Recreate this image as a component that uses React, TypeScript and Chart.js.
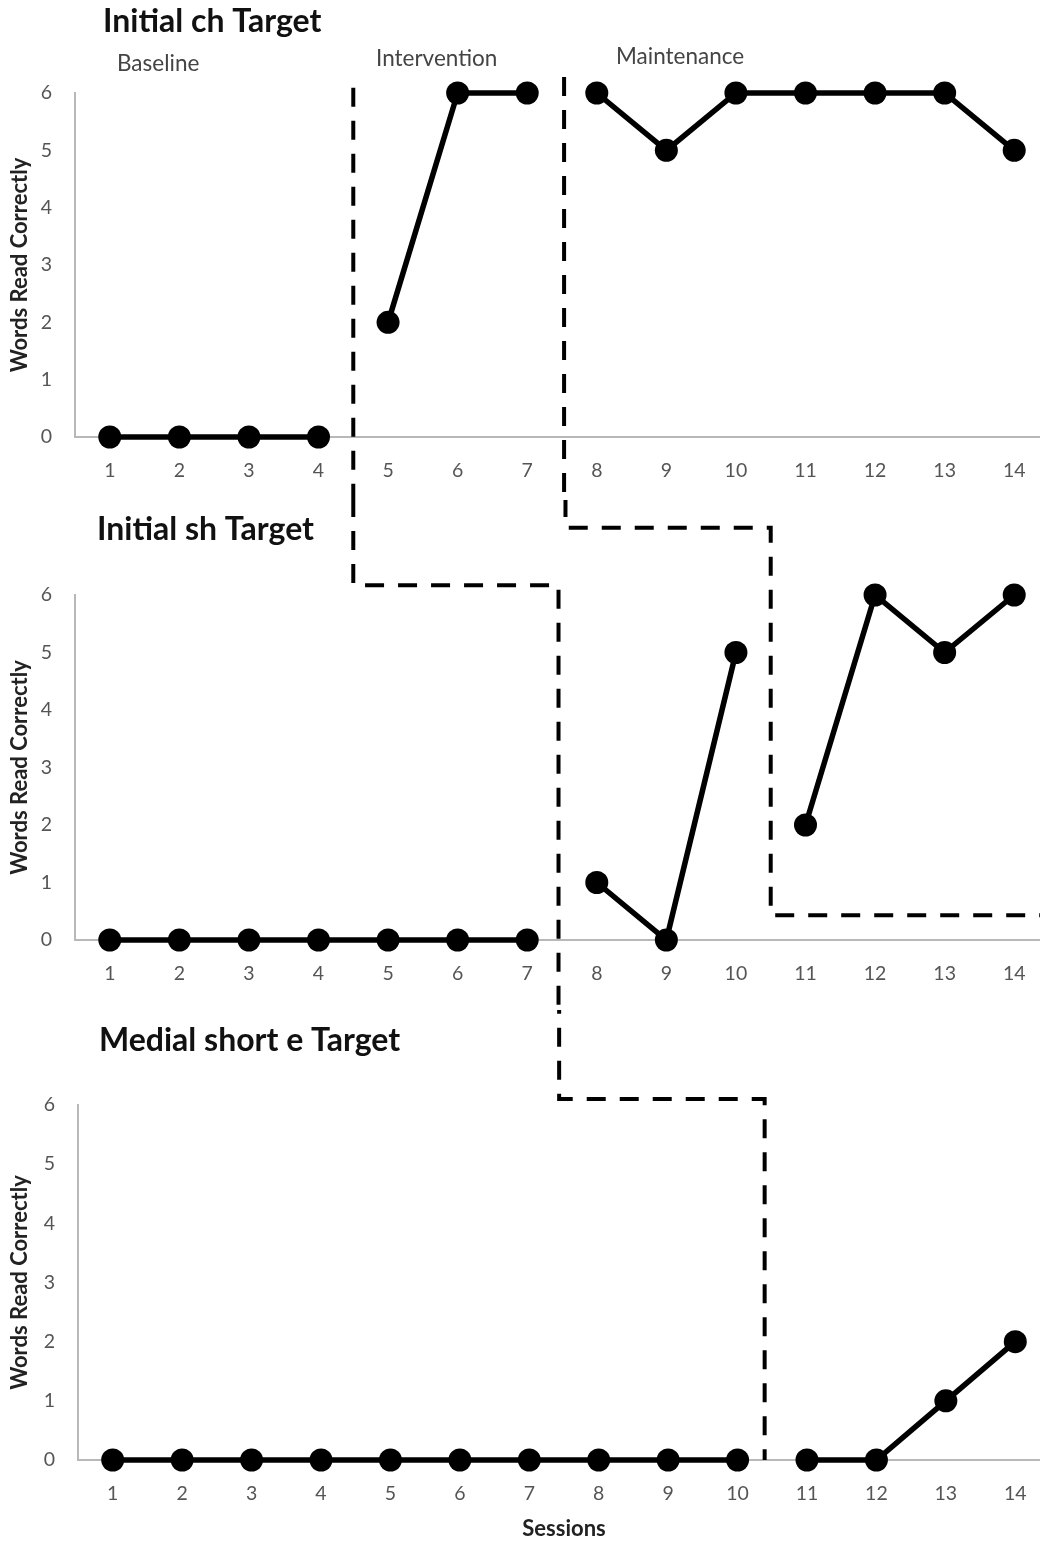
import React, { useEffect, useRef } from 'react';
import { Chart, registerables } from 'chart.js';

Chart.register(...registerables);

// ---------------- data ----------------
const sessions = [1, 2, 3, 4, 5, 6, 7, 8, 9, 10, 11, 12, 13, 14];
const yTicks = [0, 1, 2, 3, 4, 5, 6];

const chValues = [0, 0, 0, 0, 2, 6, 6, 6, 5, 6, 6, 6, 6, 5];
const shValues = [0, 0, 0, 0, 0, 0, 0, 1, 0, 5, 2, 6, 5, 6];
const eValues = [0, 0, 0, 0, 0, 0, 0, 0, 0, 0, 0, 0, 1, 2];

// first session of each new phase
const chPhaseStarts = [5, 8];
const shPhaseStarts = [8, 11];
const ePhaseStarts = [11];

const phaseNames = ['Baseline', 'Intervention', 'Maintenance'];
const panelTitles = ['Initial ch Target', 'Initial sh Target', 'Medial short e Target'];
const yAxisTitle = 'Words Read Correctly';
const xAxisTitle = 'Sessions';

// dashed phase-change lines, in (session, words) units of each panel
const chChangeLines = [
  [[4.5, 6.09], [4.5, -6]],
  [[7.53, 6.28], [7.53, -6]],
];
const shChangeLines = [
  [[4.5, 14], [4.5, 6.17], [7.45, 6.17], [7.45, -6]],
  [[7.55, 14], [7.55, 7.17], [10.5, 7.17], [10.5, 0.43], [15.5, 0.43]],
];
const eChangeLines = [
  [[7.43, 14], [7.43, 6.1], [10.39, 6.1], [10.39, 0]],
];

// ---------------- helpers ----------------
const FONT = 'Lato, "Open Sans", "DejaVu Sans", sans-serif';

function buildDatasets(values: number[], starts: number[]) {
  const bounds = [1, ...starts, 99];
  const sets: any[] = [];
  for (let i = 0; i < bounds.length - 1; i++) {
    const pts = sessions
      .filter((s) => s >= bounds[i] && s < bounds[i + 1])
      .map((s) => ({ x: s, y: values[s - 1] }));
    sets.push({
      data: pts,
      borderColor: '#000',
      backgroundColor: '#000',
      borderWidth: 5.5,
      pointRadius: 11.5,
      pointBackgroundColor: '#000',
      pointBorderColor: '#000',
      pointBorderWidth: 0,
      tension: 0,
      clip: false,
    });
  }
  return sets;
}

type Panel = {
  values: number[];
  starts: number[];
  lines: number[][][];
  title: string;
  titleX: number;
  titleY: number;
  top: number;
  height: number;
  areaTop: number;
  areaBottom: number;
  areaLeft: number;
  areaRight: number;
  phaseLabels: boolean;
  xTitle: boolean;
};

const panels: Panel[] = [
  {
    values: chValues, starts: chPhaseStarts, lines: chChangeLines, title: panelTitles[0],
    titleX: 103, titleY: 22, top: 0, height: 500, areaTop: 93, areaBottom: 437,
    areaLeft: 75, areaRight: 1049, phaseLabels: true, xTitle: false,
  },
  {
    values: shValues, starts: shPhaseStarts, lines: shChangeLines, title: panelTitles[1],
    titleX: 97, titleY: 30, top: 500, height: 510, areaTop: 95, areaBottom: 440,
    areaLeft: 75, areaRight: 1049, phaseLabels: false, xTitle: false,
  },
  {
    values: eValues, starts: ePhaseStarts, lines: eChangeLines, title: panelTitles[2],
    titleX: 99, titleY: 31, top: 1010, height: 532, areaTop: 95, areaBottom: 450,
    areaLeft: 78, areaRight: 1050, phaseLabels: false, xTitle: true,
  },
];

const CANVAS_W = 1050;

function PanelChart({ p }: { p: Panel }) {
  const ref = useRef<HTMLCanvasElement | null>(null);
  useEffect(() => {
    if (!ref.current) return;
    const decor = {
      id: 'decor',
      afterDraw(chart: any) {
        const ctx = chart.ctx;
        const xs = chart.scales.x;
        const ys = chart.scales.y;
        ctx.save();
        // dashed phase-change lines
        ctx.strokeStyle = '#000';
        ctx.lineWidth = 4;
        ctx.setLineDash([19, 14]);
        ctx.lineCap = 'butt';
        ctx.lineJoin = 'miter';
        p.lines.forEach((line) => {
          ctx.beginPath();
          line.forEach(([vx, vy], i) => {
            const px = xs.getPixelForValue(vx);
            const py = ys.getPixelForValue(vy);
            if (i === 0) ctx.moveTo(px, py);
            else ctx.lineTo(px, py);
          });
          ctx.stroke();
        });
        ctx.setLineDash([]);
        // panel title
        ctx.fillStyle = '#111';
        ctx.font = `bold 32px ${FONT}`;
        ctx.textAlign = 'left';
        ctx.textBaseline = 'middle';
        ctx.fillText(p.title, p.titleX, p.titleY);
        if (p.phaseLabels) {
          ctx.fillStyle = '#444';
          ctx.font = `22.5px ${FONT}`;
          ctx.fillText(phaseNames[0], 117, 64);
          ctx.fillText(phaseNames[1], 376, 59);
          ctx.fillText(phaseNames[2], 616, 57);
        }
        ctx.restore();
      },
    };
    const chart = new Chart(ref.current, {
      type: 'line',
      data: { datasets: buildDatasets(p.values, p.starts) },
      plugins: [decor],
      options: {
        responsive: false,
        animation: false,
        devicePixelRatio: 1,
        layout: {
          autoPadding: false,
          padding: { top: p.areaTop, left: 0, right: CANVAS_W - p.areaRight, bottom: 0 },
        },
        plugins: {
          legend: { display: false },
          tooltip: { enabled: false },
          title: { display: false },
        },
        scales: {
          x: {
            type: 'linear',
            min: 0.5,
            max: 14.5,
            afterBuildTicks: (scale: any) => {
              scale.ticks = sessions.map((v) => ({ value: v }));
            },
            afterFit: (scale: any) => {
              scale.height = p.height - p.areaBottom;
              scale.paddingLeft = 0;
              scale.paddingRight = 0;
            },
            grid: { display: false, drawTicks: false },
            border: { display: true, color: '#b8b8b8', width: 2 },
            ticks: {
              color: '#555',
              font: { family: FONT, size: 19.5 },
              padding: 22,
              maxRotation: 0,
              autoSkip: false,
            },
            title: {
              display: p.xTitle,
              text: xAxisTitle,
              color: '#222',
              font: { family: FONT, size: 22, weight: 'bold' },
              padding: { top: 0, bottom: 0 },
            },
          },
          y: {
            type: 'linear',
            min: 0,
            max: 6,
            afterBuildTicks: (scale: any) => {
              scale.ticks = yTicks.map((v) => ({ value: v }));
            },
            afterFit: (scale: any) => {
              scale.width = p.areaLeft;
              scale.paddingTop = 0;
              scale.paddingBottom = 0;
            },
            grid: { display: false, drawTicks: false },
            border: { display: true, color: '#b8b8b8', width: 2 },
            ticks: {
              color: '#555',
              font: { family: FONT, size: 19.5 },
              padding: 23,
            },
            title: {
              display: true,
              text: yAxisTitle,
              color: '#222',
              font: { family: FONT, size: 22, weight: 'bold' },
              padding: { top: 7, bottom: 0 },
            },
          },
        },
      } as any,
    });
    return () => chart.destroy();
  }, [p]);
  return (
    <canvas
      ref={ref}
      width={CANVAS_W}
      height={p.height}
      style={{
        position: 'absolute',
        left: 0,
        top: p.top,
        width: CANVAS_W,
        height: p.height,
        display: 'block',
      }}
    />
  );
}

export default function App() {
  return (
    <div
      style={{
        position: 'fixed',
        left: 0,
        top: 0,
        width: 1040,
        height: 1542,
        overflow: 'hidden',
        background: '#fff',
      }}
    >
      {panels.map((p, i) => (
        <PanelChart key={i} p={p} />
      ))}
    </div>
  );
}
